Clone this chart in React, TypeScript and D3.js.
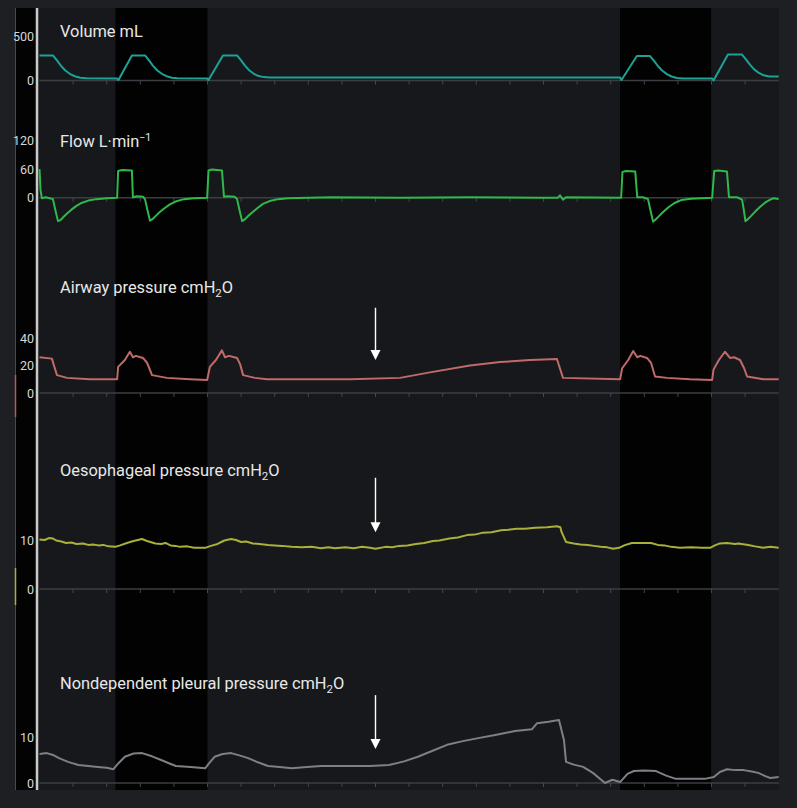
import React from 'react';
import * as d3 from 'd3';

const W = 797;
const H = 808;

// time (s) vs value traces
const volumeTrace: [number, number][] = [
  [0, 281], [0.4, 281], [0.52, 225], [0.64, 165], [0.76, 115], [0.9, 75], [1.05, 48], [1.21, 30], [1.4, 24], [2.31, 22], [2.35, 6],
  [2.75, 281], [3.14, 281], [3.26, 225], [3.38, 165], [3.5, 115], [3.64, 75], [3.78, 48], [3.94, 30], [4.1, 24], [4.99, 22], [5.03, 6],
  [5.46, 281], [5.88, 281], [6.0, 225], [6.12, 165], [6.24, 115], [6.38, 75], [6.52, 50], [6.68, 38], [6.85, 34], [17.28, 34], [17.32, 6],
  [17.78, 275], [18.17, 275], [18.29, 220], [18.41, 160], [18.53, 112], [18.67, 72], [18.81, 45], [18.97, 28], [19.15, 22], [20.02, 22], [20.06, 0],
  [20.49, 292], [20.91, 292], [21.03, 235], [21.15, 175], [21.27, 125], [21.41, 85], [21.55, 58], [21.72, 46], [22.0, 45],
];

const flowTrace: [number, number][] = [
  [0, 60], [0.03, 16], [0.07, -1], [0.19, 1], [0.4, -3], [0.47, -25], [0.55, -49], [0.62, -47], [0.72, -40],
  [0.82, -33], [0.95, -25], [1.1, -17], [1.25, -11], [1.45, -6], [1.7, -3], [2.0, -1], [2.31, 0], [2.34, 56],
  [2.46, 58], [2.75, 57], [2.78, 1], [2.9, 3], [3.08, 2], [3.14, -3], [3.21, -25], [3.29, -48], [3.36, -45],
  [3.46, -38], [3.58, -30], [3.72, -22], [3.88, -14], [4.05, -8], [4.3, -3], [4.6, -1], [4.99, 0], [5.03, 57],
  [5.13, 59], [5.43, 57], [5.49, 2], [5.6, 3], [5.81, 2], [5.88, -3], [5.95, -25], [6.03, -49], [6.1, -46],
  [6.2, -39], [6.33, -31], [6.48, -22], [6.65, -13], [6.85, -7], [7.1, -3], [7.4, -1], [8.65, 1], [10.73, 0],
  [12.81, 1], [14.9, 0], [15.43, 0], [15.49, 5], [15.58, -4], [15.67, 1], [17.31, 0], [17.35, 54], [17.46, 56],
  [17.73, 55], [17.79, 1], [17.96, 1], [18.11, -3], [18.18, -25], [18.26, -50], [18.33, -46], [18.43, -39], [18.56, -30],
  [18.72, -20], [18.9, -11], [19.1, -5], [19.4, -2], [20.02, 0], [20.08, 56], [20.2, 57], [20.46, 55], [20.52, 1],
  [20.76, 1], [20.91, -4], [20.96, -25], [21.01, -49], [21.08, -45], [21.18, -38], [21.3, -29], [21.45, -19], [21.6, -10],
  [21.75, -4], [21.85, -1], [22.0, -3],
];

const airwayTrace: [number, number][] = [
  [0, 26], [0.37, 25], [0.43, 20], [0.52, 13], [0.82, 11], [1.5, 10], [2.31, 10], [2.34, 19],
  [2.54, 24], [2.69, 30], [2.78, 26], [2.87, 27], [3.08, 25.5], [3.2, 22], [3.35, 13], [3.79, 11],
  [4.48, 10], [4.99, 9.5], [5.07, 19], [5.25, 24], [5.43, 31], [5.52, 26], [5.64, 27], [5.88, 25.5],
  [5.97, 21], [6.06, 13], [6.41, 11], [6.77, 10], [9.24, 10], [10.73, 11], [11.62, 15], [12.81, 20],
  [13.71, 22.5], [14.6, 24], [15.4, 24.7], [15.58, 11], [17.28, 10], [17.34, 18], [17.52, 24], [17.67, 30.5],
  [17.79, 26], [17.88, 27], [18.08, 25.5], [18.2, 22], [18.32, 12], [18.68, 11], [19.36, 10], [20.02, 9.5],
  [20.06, 17], [20.22, 24], [20.4, 30], [20.55, 25.5], [20.67, 26], [20.85, 24], [20.97, 18], [21.06, 12],
  [21.54, 10], [22.0, 10],
];

const oesophagealTrace: [number, number][] = [
  [0, 10.1], [0.15, 10.0], [0.28, 10.4], [0.4, 10.3], [0.5, 9.9], [0.65, 9.7], [0.79, 9.4], [0.95, 9.5],
  [1.1, 9.2], [1.3, 9.3], [1.45, 9.0], [1.59, 9.1], [1.75, 8.9], [1.9, 9.0], [2.05, 8.7], [2.25, 8.6],
  [2.4, 8.9], [2.6, 9.4], [2.8, 9.8], [3.05, 10.2], [3.2, 9.8], [3.3, 9.6], [3.45, 9.3], [3.62, 9.2],
  [3.75, 9.4], [3.9, 8.9], [4.05, 8.8], [4.18, 8.6], [4.4, 8.7], [4.6, 8.4], [4.93, 8.4], [5.1, 8.8],
  [5.3, 9.2], [5.5, 9.9], [5.7, 10.2], [5.85, 10.0], [6.0, 9.6], [6.15, 9.7], [6.35, 9.3], [6.55, 9.2],
  [6.8, 9.0], [7.0, 8.9], [7.22, 8.8], [7.5, 8.6], [7.8, 8.5], [8.1, 8.6], [8.38, 8.3], [8.6, 8.5],
  [8.8, 8.3], [9.1, 8.5], [9.35, 8.3], [9.6, 8.6], [9.84, 8.4], [10.0, 8.2], [10.3, 8.6], [10.5, 8.5],
  [10.7, 8.8], [10.95, 8.9], [11.2, 9.2], [11.45, 9.4], [11.71, 9.8], [11.9, 9.9], [12.2, 10.3], [12.45, 10.5],
  [12.72, 11.0], [12.95, 11.1], [13.2, 11.5], [13.45, 11.6], [13.74, 12.0], [13.95, 12.1], [14.2, 12.3], [14.45, 12.3],
  [14.75, 12.5], [15.1, 12.6], [15.4, 12.8], [15.5, 12.6], [15.54, 11.6], [15.67, 9.6], [15.9, 9.3], [16.1, 9.1],
  [16.32, 9.0], [16.5, 8.8], [16.7, 8.6], [16.9, 8.5], [17.07, 8.2], [17.25, 8.4], [17.4, 8.9], [17.63, 9.4],
  [17.9, 9.4], [18.2, 9.4], [18.4, 9.0], [18.6, 8.9], [18.8, 8.6], [19.06, 8.4], [19.4, 8.5], [19.7, 8.4],
  [19.96, 8.4], [20.1, 8.9], [20.25, 9.3], [20.46, 9.4], [20.7, 9.2], [20.8, 9.3], [21.09, 9.0], [21.3, 8.7],
  [21.54, 8.4], [21.75, 8.6], [22.0, 8.4],
];

const pleuralTrace: [number, number][] = [
  [0, 6.3], [0.22, 6.5], [0.4, 6.1], [0.58, 5.4], [0.85, 4.6], [1.16, 3.9], [1.45, 3.7], [1.74, 3.5],
  [2.0, 3.3], [2.2, 3.0], [2.35, 4.3], [2.54, 5.7], [2.8, 6.4], [3.05, 6.5], [3.35, 5.8], [3.62, 5.0],
  [3.85, 4.3], [4.06, 3.7], [4.5, 3.5], [4.93, 3.2], [5.05, 4.3], [5.21, 5.7], [5.45, 6.3], [5.7, 6.5],
  [5.95, 6.0], [6.21, 5.4], [6.5, 4.5], [6.8, 3.7], [7.15, 3.5], [7.51, 3.2], [7.95, 3.5], [8.38, 3.7],
  [9.1, 3.7], [9.84, 3.7], [10.4, 3.9], [10.85, 4.7], [11.26, 5.7], [11.7, 7.0], [12.13, 8.3], [12.6, 9.1],
  [13.02, 9.7], [13.6, 10.5], [14.15, 11.3], [14.66, 11.7], [14.81, 13.0], [15.15, 13.3], [15.46, 13.7], [15.61, 9.3],
  [15.67, 4.6], [15.9, 4.0], [16.18, 3.5], [16.47, 2.2], [16.83, 0], [17.05, 0.7], [17.28, 0.2], [17.5, 2.0],
  [17.69, 2.6], [18.0, 2.7], [18.35, 2.6], [18.65, 1.6], [18.94, 0.9], [19.4, 0.9], [19.8, 0.9], [20.07, 1.3],
  [20.25, 2.4], [20.46, 3.0], [20.7, 2.8], [20.96, 2.8], [21.2, 2.5], [21.39, 2.2], [21.6, 1.5], [21.75, 1.1],
  [22.0, 1.3],
];

// black shaded intervals (s)
const shadedIntervals: [number, number][] = [[2.26, 5.0], [17.28, 19.99]];

const volumeTicks = [500, 0];
const flowTicks = [120, 60, 0];
const airwayTicks = [40, 20, 0];
const oesophagealTicks = [10, 0];
const pleuralTicks = [10, 0];

const timeTicks = d3.range(1, 22);
const arrowTime = 10;

const x = d3.scaleLinear().domain([0, 22]).range([39.5, 778.7]);

type Panel = {
  trace: [number, number][];
  ticks: number[];
  y: d3.ScaleLinear<number, number>;
  color: string;
  label: React.ReactNode;
  labelY: number;
  arrow?: [number, number];
};

const sub = (s: string) => (
  <tspan fontSize={11.5} dy={4}>{s}</tspan>
);

const panels: Panel[] = [
  {
    trace: volumeTrace, ticks: volumeTicks,
    y: d3.scaleLinear().domain([0, 500]).range([80.5, 36]),
    color: '#1fa196', labelY: 37,
    label: <>Volume mL</>,
  },
  {
    trace: flowTrace, ticks: flowTicks,
    y: d3.scaleLinear().domain([0, 60]).range([197.7, 169]),
    color: '#2fb94b', labelY: 147,
    label: <>Flow L·min<tspan fontSize={10.5} dy={-6}>−1</tspan></>,
  },
  {
    trace: airwayTrace, ticks: airwayTicks,
    y: d3.scaleLinear().domain([0, 40]).range([393, 338]),
    color: '#c06a6c', labelY: 293,
    label: <>Airway pressure cmH{sub('2')}<tspan dy={-4}>O</tspan></>,
    arrow: [62, 24],
  },
  {
    trace: oesophagealTrace, ticks: oesophagealTicks,
    y: d3.scaleLinear().domain([0, 10]).range([589, 540]),
    color: '#a9b13a', labelY: 476,
    label: <>Oesophageal pressure cmH{sub('2')}<tspan dy={-4}>O</tspan></>,
    arrow: [22.7, 11.6],
  },
  {
    trace: pleuralTrace, ticks: pleuralTicks,
    y: d3.scaleLinear().domain([0, 10]).range([783, 737]),
    color: '#7d8084', labelY: 689,
    label: <>Nondependent pleural pressure cmH{sub('2')}<tspan dy={-4}>O</tspan></>,
    arrow: [19.1, 7.4],
  },
];

const TOP = 8;
const BOTTOM = 790;

export default function App() {
  return (
    <div style={{ position: 'absolute', left: 0, top: 0 }}>
      <svg width={W} height={H} style={{ display: 'block' }} fontFamily="Roboto, 'DejaVu Sans', sans-serif">
        <rect x={0} y={0} width={W} height={H} fill="#1d1f23" />
        <rect x={x(0) - 1.5} y={TOP} width={x(22) - x(0) + 1.5} height={BOTTOM - TOP} fill="#16181b" />
        {shadedIntervals.map(([a, b], i) => (
          <rect key={i} x={x(a)} y={TOP} width={x(b) - x(a)} height={BOTTOM - TOP} fill="#020202" />
        ))}
        {/* left strip */}
        <rect x={15} y={TOP} width={21} height={BOTTOM - TOP} fill="#030303" />
        <line x1={15.5} x2={15.5} y1={TOP} y2={BOTTOM} stroke="#4a4a48" strokeWidth={1} />
        <line x1={15.5} x2={15.5} y1={375} y2={417} stroke="#b85a5a" strokeWidth={1.5} />
        <line x1={15.5} x2={15.5} y1={568} y2={605} stroke="#b0b034" strokeWidth={1.5} />
        <line x1={37} x2={37} y1={TOP} y2={BOTTOM} stroke="#c9c9c9" strokeWidth={2.5} />

        {panels.map((p, i) => {
          const line = d3.line<[number, number]>().x((d) => x(d[0])).y((d) => p.y(d[1]));
          const y0 = p.y(0);
          return (
            <g key={i}>
              <line x1={x(0)} x2={x(22)} y1={y0} y2={y0} stroke="#3b3e43" strokeWidth={1.6} />
              {timeTicks.map((t) => (
                <line key={t} x1={x(t)} x2={x(t)} y1={y0} y2={y0 + 4} stroke="#44474c" strokeWidth={1} />
              ))}
              {p.ticks.map((v) => (
                <text key={v} x={34} y={p.y(v)} dy="0.36em" textAnchor="end" fontSize={12.5} fill="#d6d6d6">
                  {v}
                </text>
              ))}
              <path d={line(p.trace) || ''} fill="none" stroke={p.color} strokeWidth={2} strokeLinejoin="round" />
              <text x={60} y={p.labelY} fontSize={16.4} fill="#e8e8e8">{p.label}</text>
              {p.arrow && (
                <g>
                  <line x1={x(arrowTime)} x2={x(arrowTime)} y1={p.y(p.arrow[0])} y2={p.y(p.arrow[1]) - 8}
                    stroke="#ffffff" strokeWidth={1.4} />
                  <path
                    d={`M${x(arrowTime) - 5},${p.y(p.arrow[1]) - 10} L${x(arrowTime) + 5},${p.y(p.arrow[1]) - 10} L${x(arrowTime)},${p.y(p.arrow[1])} Z`}
                    fill="#ffffff" />
                </g>
              )}
            </g>
          );
        })}
      </svg>
    </div>
  );
}
